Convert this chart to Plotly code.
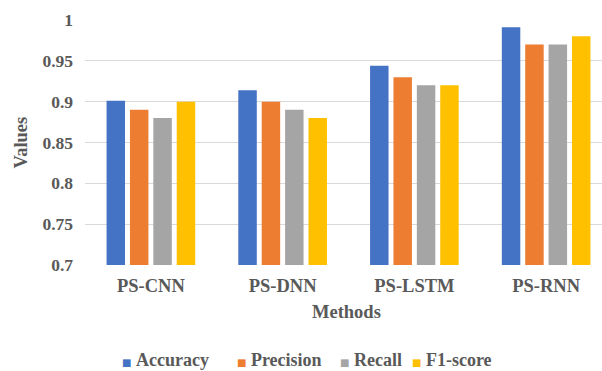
import plotly.graph_objects as go

methods = ["PS-CNN", "PS-DNN", "PS-LSTM", "PS-RNN"]
accuracy = [0.901, 0.914, 0.944, 0.991]
precision = [0.89, 0.90, 0.93, 0.97]
recall = [0.88, 0.89, 0.92, 0.97]
f1_score = [0.90, 0.88, 0.92, 0.98]
y_ticks = [0.7, 0.75, 0.8, 0.85, 0.9, 0.95, 1]
y_tick_text = ["0.7", "0.75", "0.8", "0.85", "0.9", "0.95", "1"]
series_names = ["Accuracy", "Precision", "Recall", "F1-score"]
series_colors = ["#4472C4", "#ED7D31", "#A5A5A5", "#FFC000"]
series_values = [accuracy, precision, recall, f1_score]

font_family = "Liberation Serif"
text_color = "#595959"
W, H = 602, 371
L, R, T, B = 85, 0, 20, 106
pw, ph = W - L - R, H - T - B


def px_x(px):
    return (px - L) / pw


def px_y(py):
    return (H - B - py) / ph


fig = go.Figure()
for name, vals, color in zip(series_names, series_values, series_colors):
    fig.add_trace(go.Bar(x=methods, y=vals, name=name, marker_color=color,
                         marker_line_width=0, showlegend=False))

annotations = [
    dict(text="<b>Methods</b>", xref="paper", yref="paper", x=px_x(346), y=px_y(312),
         xanchor="center", yanchor="middle", showarrow=False,
         font=dict(family=font_family, size=18.5, color=text_color)),
    dict(text="<b>Values</b>", xref="paper", yref="paper", x=px_x(20), y=0.5,
         xanchor="center", yanchor="middle", showarrow=False, textangle=-90,
         font=dict(family=font_family, size=18.5, color=text_color)),
]
legend_left_px = [120, 235, 338, 410]
for name, color, lx in zip(series_names, series_colors, legend_left_px):
    annotations.append(dict(
        text=f"<span style='font-family:DejaVu Sans;font-size:10px;color:{color}'>■</span> <b>{name}</b>",
        xref="paper", yref="paper", x=px_x(lx), y=px_y(360),
        xanchor="left", yanchor="middle", showarrow=False,
        font=dict(family=font_family, size=18, color=text_color)))

fig.update_layout(
    width=W, height=H,
    margin=dict(l=L, r=R, t=T, b=B, autoexpand=False),
    paper_bgcolor="white", plot_bgcolor="white",
    barmode="group", bargap=0.29, bargroupgap=0.21,
    font=dict(family=font_family, size=18.5, color=text_color),
    showlegend=False,
    xaxis=dict(range=[-0.5, 3.424], showgrid=False, zeroline=False, showline=False,
               ticks="", automargin=False, ticklabelstandoff=7,
               tickvals=methods, ticktext=[f"<b>{m}</b>" for m in methods],
               tickfont=dict(family=font_family, size=18.5, color=text_color)),
    yaxis=dict(range=[0.7, 1.0], tickvals=y_ticks, ticktext=[f"<b>{t}</b>" for t in y_tick_text],
               showgrid=True, gridcolor="#D9D9D9", gridwidth=1, zeroline=False,
               showline=False, ticks="", ticklabelstandoff=11, automargin=False,
               tickfont=dict(family=font_family, size=17.5, color=text_color)),
    annotations=annotations,
)

fig.write_html("out.html", config={"displayModeBar": False},
               post_script="document.body.style.margin='0';document.body.style.overflow='hidden';")
